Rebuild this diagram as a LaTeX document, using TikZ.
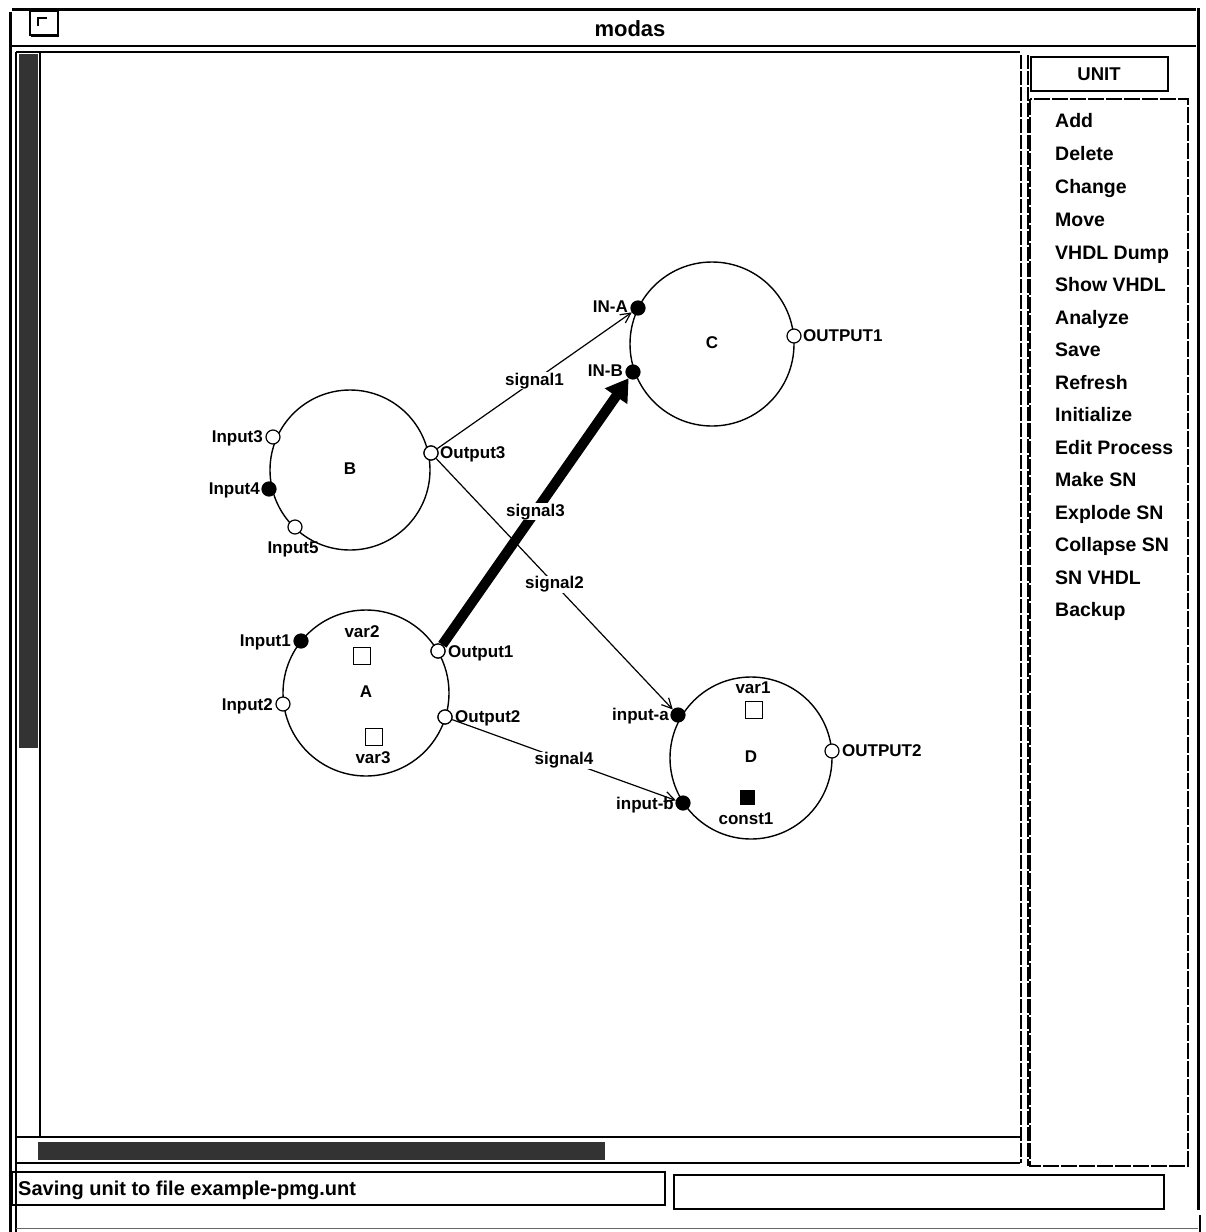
\documentclass[tikz,border=0pt]{standalone}
\usepackage{fontspec}
\setmainfont{Liberation Sans}
\usetikzlibrary{arrows.meta}

\begin{document}
\begin{tikzpicture}[x=1pt,y=-1pt,
  lbl/.style={font=\fontsize{17}{19}\selectfont\bfseries, inner sep=1pt, text height=12pt, text depth=3pt},
  menuitem/.style={font=\fontsize{19.5}{21}\selectfont\bfseries, anchor=west, inner sep=0pt, text height=14pt, text depth=4pt},
  unitc/.style={circle, draw, line width=1.4pt, minimum size=#1, inner sep=0pt},
  inport/.style={circle, draw, fill=black, minimum size=14pt, inner sep=0pt, line width=1.2pt},
  outport/.style={circle, draw, fill=white, minimum size=14pt, inner sep=0pt, line width=1.2pt},
  varbox/.style={rectangle, draw, fill=white, minimum size=17pt, inner sep=0pt, line width=1.2pt},
  constbox/.style={rectangle, draw, fill=black, minimum size=14pt, inner sep=0pt},
  wire/.style={line width=1.2pt, -{Straight Barb[length=10pt, width=10pt]}},
  bus/.style={line width=10pt, -{Triangle[length=22pt, width=26pt]}},
  sig/.style={lbl, fill=white},
  frame/.style={line width=1.4pt},
  heavy/.style={line width=3pt},
  scroll/.style={fill=black!80}
]
\useasboundingbox (0,0) rectangle (1206,1232);
\fill[white] (0,0) rectangle (1206,1232);

% ---------- window frame ----------
\draw[heavy] (10,12) -- (10,1232);
\draw[heavy] (12,9) -- (1196,9);
\draw[heavy] (1198,8) -- (1198,1210);
\draw[frame] (1200,1215) -- (1200,1232);
\draw[frame] (12,46) -- (1196,46);
\draw[frame] (16,52) -- (1020,52);
% close box
\draw[frame] (30,11) rectangle (58,35);
\draw[line width=2pt] (58,12) -- (58,36) -- (31,36);
\draw[line width=1.4pt] (38,26) -- (38,18) -- (47,18);
\node[font=\fontsize{22}{24}\selectfont\bfseries] (title) at (630,29) {modas};

% left scrollbar
\draw[frame] (16,52) -- (16,1232);
\draw[frame] (40,52) -- (40,1137);
\fill[scroll] (19,54) rectangle (38,748);
% bottom scrollbar
\draw[frame] (16,1137) -- (1020,1137);
\draw[frame] (16,1163) -- (1020,1163);
\fill[scroll] (38,1142) rectangle (605,1160);
% canvas right edge
\draw[frame, dash pattern=on 14pt off 2pt] (1021,55) -- (1021,1163);

% right command panel
\draw[frame, dash pattern=on 14pt off 2pt] (1028,55) -- (1028,1166);
\draw[line width=2.6pt] (1031,57) rectangle (1168,91);
\node[font=\fontsize{18.5}{20}\selectfont\bfseries] (unitbtn) at (1099,74) {UNIT};
\draw[frame, dash pattern=on 16pt off 2pt] (1030,99) rectangle (1188,1166);
\node[menuitem] (m1)  at (1055,122) {Add};
\node[menuitem] (m2)  at (1055,155) {Delete};
\node[menuitem] (m3)  at (1055,188) {Change};
\node[menuitem] (m4)  at (1055,221) {Move};
\node[menuitem] (m5)  at (1055,254) {VHDL Dump};
\node[menuitem] (m6)  at (1055,286) {Show VHDL};
\node[menuitem] (m7)  at (1055,319) {Analyze};
\node[menuitem] (m8)  at (1055,351) {Save};
\node[menuitem] (m9)  at (1055,384) {Refresh};
\node[menuitem] (m10) at (1055,416) {Initialize};
\node[menuitem] (m11) at (1055,449) {Edit Process};
\node[menuitem] (m12) at (1055,481) {Make SN};
\node[menuitem] (m13) at (1055,514) {Explode SN};
\node[menuitem] (m14) at (1055,546) {Collapse SN};
\node[menuitem] (m15) at (1055,579) {SN VHDL};
\node[menuitem] (m16) at (1055,611) {Backup};

% status line
\draw[frame] (12,1172) rectangle (665,1205);
\node[font=\fontsize{20}{22}\selectfont\bfseries, anchor=west, inner sep=0pt] (status) at (18,1190) {Saving unit to file example-pmg.unt};
\draw[line width=2.6pt] (674,1175) rectangle (1164,1209);
\draw[line width=0.8pt, black!60] (16,1228) -- (1198,1228);

% ---------- units ----------
\node[unitc=164pt] (C) at (712,344) {};
\node[unitc=160pt] (B) at (350,470) {};
\node[unitc=166pt] (A) at (366,693) {};
\node[unitc=162pt] (D) at (751,758) {};
\node[lbl] at (C.center) {C};
\node[lbl] at (B.center) {B};
\node[lbl] at (A.center) {A};
\node[lbl] at (D.center) {D};

% ports of C
\node[inport]  (ina)  at (638,308) {};
\node[inport]  (inb)  at (633,372) {};
\node[outport] (out1c) at (794,336) {};
\node[lbl, anchor=east] at (629,308) {IN-A};
\node[lbl, anchor=east] at (624,372) {IN-B};
\node[lbl, anchor=west] at (802,337) {OUTPUT1};

% ports of B
\node[outport] (in3)  at (273,437) {};
\node[inport]  (in4)  at (269,489) {};
\node[outport] (in5)  at (295,527) {};
\node[outport] (out3) at (431,453) {};
\node[lbl, anchor=east] at (264,438) {Input3};
\node[lbl, anchor=east] at (261,490) {Input4};
\node[lbl] at (293,549) {Input5};
\node[lbl, anchor=west] at (439,454) {Output3};

% ports and contents of A
\node[inport]  (in1)  at (301,641) {};
\node[outport] (in2)  at (283,704) {};
\node[outport] (out1) at (438,651) {};
\node[outport] (out2) at (445,717) {};
\node[lbl, anchor=east] at (292,642) {Input1};
\node[lbl, anchor=east] at (274,706) {Input2};
\node[lbl, anchor=west] at (447,653) {Output1};
\node[lbl, anchor=west] at (454,718) {Output2};
\node[lbl] at (362,633) {var2};
\node[varbox] (var2) at (362,656) {};
\node[varbox] (var3) at (374,737) {};
\node[lbl] at (373,759) {var3};

% ports and contents of D
\node[inport]  (inpa) at (678,715) {};
\node[inport]  (inpb) at (683,803) {};
\node[outport] (out2d) at (832,751) {};
\node[lbl, anchor=east] at (670,716) {input-a};
\node[lbl, anchor=east] at (675,805) {input-b};
\node[lbl, anchor=west] at (841,752) {OUTPUT2};
\node[lbl] at (753,689) {var1};
\node[varbox] (var1) at (754,710) {};
\node[constbox] (const1) at (747,797) {};
\node[lbl] at (746,820) {const1};

% ---------- signals ----------
\draw[wire] (out3) -- node[sig] {signal1} (ina);
\draw[wire] (out3) -- node[sig] {signal2} (inpa);
\draw[bus]  (out1) -- node[sig] {signal3} (inb);
\draw[wire] (out2) -- node[sig] {signal4} (inpb);

% redraw port markers over the wire ends
\node[outport] at (out3) {};
\node[outport] at (out1) {};
\node[outport] at (out2) {};
\end{tikzpicture}
\end{document}
